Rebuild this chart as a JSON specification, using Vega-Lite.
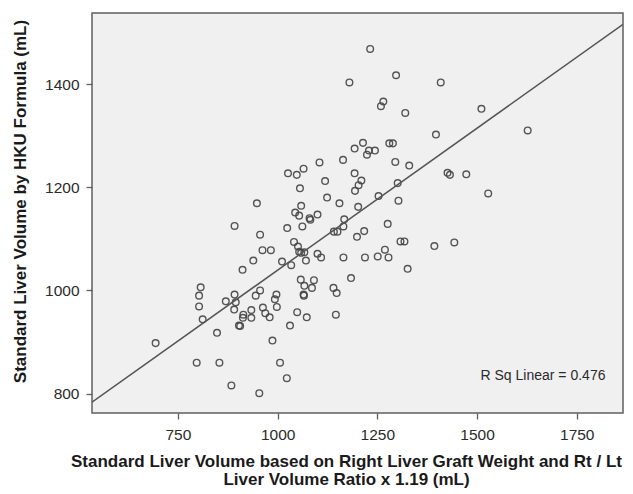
{
  "$schema": "https://vega.github.io/schema/vega-lite/v6.json",
  "width": 531,
  "height": 400,
  "autosize": {"type": "none"},
  "padding": {"left": 92, "top": 13, "right": 10, "bottom": 81},
  "background": "white",
  "config": {
    "font": "Liberation Sans",
    "view": {"fill": "#f0f0f0", "stroke": "#5f5f5f", "strokeWidth": 1.5},
    "axis": {
      "domain": false,
      "grid": false,
      "tickColor": "#5f5f5f",
      "tickSize": 6,
      "tickWidth": 1.3,
      "labelFont": "Liberation Sans",
      "labelFontSize": 15.5,
      "labelColor": "#2b2b2b",
      "titleFont": "Liberation Sans",
      "titleFontWeight": "bold",
      "titleColor": "#1a1a1a",
      "format": "d"
    }
  },
  "datasets": {
    "pts": [
      {"x":1180,"y":1403},{"x":1232,"y":1468},{"x":1297,"y":1417},{"x":1409,"y":1403},{"x":1265,"y":1366},
      {"x":1259,"y":1357},{"x":1320,"y":1344},{"x":1511,"y":1352},{"x":1627,"y":1310},{"x":1397,"y":1302},
      {"x":1214,"y":1286},{"x":1193,"y":1275},{"x":1280,"y":1285},{"x":1289,"y":1285},{"x":1229,"y":1271},
      {"x":1224,"y":1263},{"x":1244,"y":1271},{"x":1164,"y":1253},{"x":1295,"y":1249},{"x":1330,"y":1242},
      {"x":1105,"y":1248},{"x":1065,"y":1236},{"x":1048,"y":1224},{"x":1026,"y":1227},{"x":1193,"y":1227},
      {"x":1426,"y":1228},{"x":1432,"y":1224},{"x":1473,"y":1225},{"x":1119,"y":1212},{"x":1210,"y":1213},
      {"x":1203,"y":1204},{"x":1301,"y":1208},{"x":1056,"y":1198},{"x":1194,"y":1193},{"x":1253,"y":1183},
      {"x":1528,"y":1188},{"x":1124,"y":1180},{"x":1303,"y":1174},{"x":1155,"y":1169},{"x":948,"y":1169},
      {"x":1059,"y":1164},{"x":1202,"y":1162},{"x":1044,"y":1151},{"x":1054,"y":1145},{"x":1100,"y":1147},
      {"x":1080,"y":1140},{"x":1082,"y":1137},{"x":1167,"y":1138},{"x":1276,"y":1129},{"x":892,"y":1125},
      {"x":956,"y":1108},{"x":1024,"y":1121},{"x":1062,"y":1124},{"x":1165,"y":1124},{"x":1141,"y":1114},
      {"x":1150,"y":1114},{"x":1199,"y":1104},{"x":1217,"y":1115},{"x":962,"y":1078},{"x":983,"y":1078},
      {"x":1041,"y":1094},{"x":1051,"y":1085},{"x":1054,"y":1075},{"x":1059,"y":1073},{"x":1067,"y":1074},
      {"x":1100,"y":1071},{"x":1109,"y":1064},{"x":1165,"y":1064},{"x":1219,"y":1064},{"x":1251,"y":1066},
      {"x":939,"y":1058},{"x":1011,"y":1056},{"x":1034,"y":1049},{"x":1071,"y":1058},{"x":912,"y":1040},
      {"x":1184,"y":1024},{"x":1058,"y":1021},{"x":1091,"y":1020},{"x":1067,"y":1009},{"x":1086,"y":1005},
      {"x":1140,"y":1005},{"x":1148,"y":995},{"x":1065,"y":992},{"x":1066,"y":990},{"x":956,"y":1000},
      {"x":945,"y":990},{"x":997,"y":992},{"x":993,"y":983},{"x":892,"y":992},{"x":895,"y":977},
      {"x":870,"y":979},{"x":807,"y":1006},{"x":803,"y":990},{"x":803,"y":969},{"x":812,"y":944},
      {"x":891,"y":963},{"x":998,"y":968},{"x":963,"y":967},{"x":969,"y":956},{"x":980,"y":948},
      {"x":934,"y":962},{"x":934,"y":947},{"x":914,"y":953},{"x":913,"y":947},{"x":903,"y":932},
      {"x":906,"y":931},{"x":1049,"y":958},{"x":1073,"y":948},{"x":1146,"y":953},{"x":1031,"y":932},
      {"x":848,"y":918},{"x":987,"y":903},{"x":694,"y":898},{"x":797,"y":860},{"x":854,"y":860},
      {"x":1006,"y":860},{"x":1023,"y":830},{"x":884,"y":816},{"x":954,"y":801},{"x":1308,"y":1095},
      {"x":1318,"y":1095},{"x":1393,"y":1086},{"x":1443,"y":1093},{"x":1269,"y":1079},{"x":1278,"y":1064},
      {"x":1326,"y":1042}
    ],
    "note": [{"x": 1822, "y": 835, "label": "R Sq Linear = 0.476"}]
  },
  "layer": [
    {
      "data": {"name": "pts"},
      "mark": {"type": "point", "shape": "circle", "filled": false, "size": 44, "strokeWidth": 1.4, "color": "#444444", "opacity": 0.9},
      "encoding": {
        "x": {
          "field": "x", "type": "quantitative",
          "scale": {"domain": [534.5, 1866], "nice": false, "zero": false},
          "axis": {
            "values": [750, 1000, 1250, 1500, 1750],
            "labelPadding": 8,
            "title": ["Standard Liver Volume based on Right Liver Graft Weight and Rt / Lt", "Liver Volume Ratio x 1.19 (mL)"],
            "titleFontSize": 17,
            "titleLineHeight": 18,
            "titlePadding": 11,
            "titleX": 254,
            "titleAlign": "center"
          }
        },
        "y": {
          "field": "y", "type": "quantitative",
          "scale": {"domain": [762.6, 1537.6], "nice": false, "zero": false},
          "axis": {
            "values": [800, 1000, 1200, 1400],
            "labelPadding": 7,
            "title": "Standard Liver Volume by HKU Formula (mL)",
            "titleFontSize": 17,
            "titlePadding": 15,
            "titleY": 188,
            "titleAlign": "center"
          }
        }
      }
    },
    {
      "data": {"name": "pts"},
      "transform": [{"regression": "y", "on": "x", "extent": [534.5, 1866]}],
      "mark": {"type": "line", "color": "#555555", "strokeWidth": 1.5, "clip": true},
      "encoding": {
        "x": {"field": "x", "type": "quantitative"},
        "y": {"field": "y", "type": "quantitative"}
      }
    },
    {
      "data": {"name": "note"},
      "mark": {"type": "text", "align": "right", "baseline": "middle", "fontSize": 14, "color": "#2b2b2b"},
      "encoding": {
        "x": {"field": "x", "type": "quantitative"},
        "y": {"field": "y", "type": "quantitative"},
        "text": {"field": "label"}
      }
    }
  ]
}
